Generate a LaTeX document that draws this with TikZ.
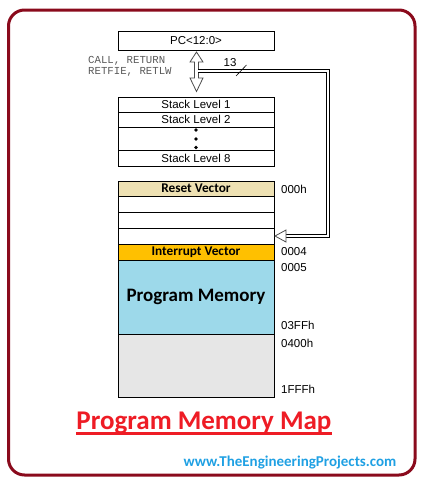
\documentclass[tikz,border=0pt]{standalone}
\usepackage{fontspec}
\setmainfont{Liberation Sans}
\newfontfamily\calfont{Carlito}
\newfontfamily\courfont{Liberation Mono}
\usepackage{xcolor}
\usetikzlibrary{positioning, calc}
\definecolor{framered}{HTML}{8A0A1C}
\definecolor{resetfill}{HTML}{EEE1B3}
\definecolor{intfill}{HTML}{FFC000}
\definecolor{progfill}{HTML}{9DD9EA}
\definecolor{graymem}{HTML}{E6E6E6}
\definecolor{titlered}{HTML}{EE1C25}
\definecolor{urlblue}{HTML}{1FA0E3}
\definecolor{opcode}{HTML}{5A5A5A}

\begin{document}
\begin{tikzpicture}[x=1pt, y=-1pt, font=\fontsize{11.5}{13}\selectfont,
	cell/.style={draw, line width=1pt, minimum width=156pt, minimum height=16pt, inner sep=0pt, outer sep=0pt},
	addr/.style={anchor=west, inner sep=0pt},
	vectorlbl/.style={font=\calfont\bfseries\fontsize{13.3}{15}\selectfont},
	hollow/.style={draw=black!70, fill=white, line width=0.8pt, line join=miter},
	pipe/.style={double, double distance=2pt, line width=0.9pt, line join=miter}]
	\useasboundingbox (0,0) rectangle (424,482);
	% frame
	\draw[framered, line width=3pt, rounded corners=16pt] (8.5,10) rectangle (415,475);
	% program counter and stack
	\node[cell, minimum height=19pt, anchor=north] (pc) at (196,31) {PC<12:0>};
	\node[cell, minimum height=15pt, anchor=north] (s1) at (196,97) {Stack Level 1};
	\node[cell, minimum height=15pt, below=0pt of s1] (s2) {Stack Level 2};
	\node[cell, minimum height=23pt, below=0pt of s2] (sdots) {};
	\node[cell, minimum height=16pt, below=0pt of sdots] (s8) {Stack Level 8};
	\foreach \dy in {-8.5,0.5,9}
		\fill ($(sdots.center)+(0,\dy)$) circle (1.8pt);
	\node[anchor=north west, align=left, inner sep=0pt, text=opcode,
		font=\courfont\fontsize{10.7}{11.6}\selectfont] (ops) at (88,56) {CALL, RETURN\\RETFIE, RETLW};
	% memory map
	\node[cell, fill=resetfill, minimum height=15pt, anchor=north, vectorlbl] (reset) at (196,181) {Reset Vector};
	\node[cell, below=0pt of reset] (m1) {};
	\node[cell, below=0pt of m1] (m2) {};
	\node[cell, below=0pt of m2] (m3) {};
	\node[cell, fill=intfill, below=0pt of m3, vectorlbl] (intv) {Interrupt Vector};
	\node[cell, fill=progfill, minimum height=74pt, below=0pt of intv,
		font=\calfont\bfseries\fontsize{19}{22}\selectfont] (prog) {Program Memory};
	\node[cell, fill=graymem, minimum height=63pt, below=0pt of prog] (hi) {};
	\node[addr] (a000) at (281,189) {000h};
	\node[addr] (a004) at (281,252) {0004};
	\node[addr] (a005) at (281,268) {0005};
	\node[addr] (a3ff) at (281,325) {03FFh};
	\node[addr] (a400) at (281,343) {0400h};
	\node[addr] (a1fff) at (281,389) {1FFFh};
	% PC <-> stack
	\draw[hollow] ($(pc.south)+(0.5,2)$) -- ++(6.5,10) -- ++(-4.5,0) -- ++(0,16) -- ++(4.5,0)
		-- ++(-6.5,13.5) -- ++(-6.5,-13.5) -- ++(4.5,0) -- ++(0,-16) -- ++(-4.5,0) -- cycle;
	% PC -> interrupt / reset path
	\coordinate (tap) at ($(pc.south)+(2.1,21)$);
	\draw[pipe] (tap) -| ($(m3.east)+(54,0)$) -- ($(m3.east)+(12,0)$);
	\draw[hollow] ($(m3.east)+(1,0)$) -- ++(11,-6) -- ++(0,12) -- cycle;
	\node (w13) at (230,63) {13};
	\draw[line width=0.6pt] ($(w13)+(6,13)$) -- ++(10.5,-11);
	% caption
	\node[anchor=base, inner sep=0pt, text=titlered,
		font=\calfont\bfseries\fontsize{27}{30}\selectfont] (title) at (204,429) {Program Memory Map};
	\draw[titlered, line width=2.5pt] ($(title.base west)+(0,4.3)$) -- ($(title.base east)+(0,4.3)$);
	\node[anchor=base, inner sep=0pt, text=urlblue,
		font=\calfont\bfseries\fontsize{15}{17}\selectfont] (url) at (290,466.5) {www.TheEngineeringProjects.com};
\end{tikzpicture}
\end{document}
